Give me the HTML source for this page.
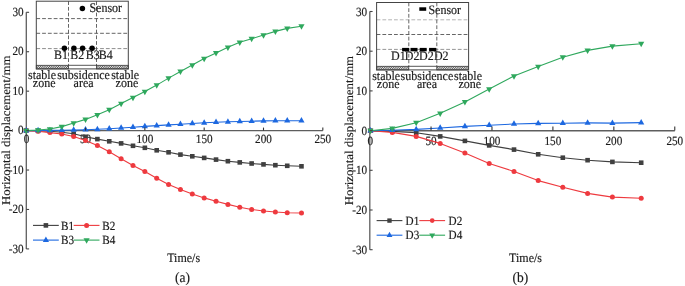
<!DOCTYPE html>
<html><head><meta charset="utf-8"><style>
html,body{margin:0;padding:0;background:#fff;}
svg{display:block;font-family:"Liberation Serif", serif;text-rendering:geometricPrecision;will-change:transform;}
</style></head><body>
<svg width="685" height="286" viewBox="0 0 685 286">
<defs><pattern id="hatch" patternUnits="userSpaceOnUse" width="1.5" height="1.5" patternTransform="rotate(45)"><rect width="1.5" height="1.5" fill="#fff"/><line x1="0" y1="0" x2="0" y2="1.5" stroke="#111" stroke-width="0.95"/></pattern></defs>
<rect width="685" height="286" fill="#fff"/>
<line x1="36.30" y1="18.60" x2="128.30" y2="18.60" stroke="#555" stroke-width="0.9" stroke-dasharray="3.8 2.0"/>
<line x1="36.30" y1="33.30" x2="128.30" y2="33.30" stroke="#555" stroke-width="0.9" stroke-dasharray="3.8 2.0"/>
<line x1="36.30" y1="48.60" x2="128.30" y2="48.60" stroke="#808080" stroke-width="0.9" stroke-dasharray="3.8 2.0"/>
<line x1="68.50" y1="1.20" x2="68.50" y2="65.30" stroke="#555" stroke-width="0.9" stroke-dasharray="3.8 1.9"/>
<line x1="96.50" y1="1.20" x2="96.50" y2="65.30" stroke="#555" stroke-width="0.9" stroke-dasharray="3.8 1.9"/>
<clipPath id="c5"><rect x="36.30" y="65.30" width="32.20" height="3.60"/></clipPath>
<path clip-path="url(#c5)" d="M32.70,68.90L36.30,65.30M34.50,68.90L38.10,65.30M36.30,68.90L39.90,65.30M38.10,68.90L41.70,65.30M39.90,68.90L43.50,65.30M41.70,68.90L45.30,65.30M43.50,68.90L47.10,65.30M45.30,68.90L48.90,65.30M47.10,68.90L50.70,65.30M48.90,68.90L52.50,65.30M50.70,68.90L54.30,65.30M52.50,68.90L56.10,65.30M54.30,68.90L57.90,65.30M56.10,68.90L59.70,65.30M57.90,68.90L61.50,65.30M59.70,68.90L63.30,65.30M61.50,68.90L65.10,65.30M63.30,68.90L66.90,65.30M65.10,68.90L68.70,65.30M66.90,68.90L70.50,65.30M68.70,68.90L72.30,65.30" stroke="#222" stroke-width="0.75" fill="none"/>
<rect x="36.30" y="65.30" width="32.20" height="3.60" fill="none" stroke="#333" stroke-width="0.8"/>
<clipPath id="c8"><rect x="96.50" y="65.30" width="31.80" height="3.60"/></clipPath>
<path clip-path="url(#c8)" d="M92.90,68.90L96.50,65.30M94.70,68.90L98.30,65.30M96.50,68.90L100.10,65.30M98.30,68.90L101.90,65.30M100.10,68.90L103.70,65.30M101.90,68.90L105.50,65.30M103.70,68.90L107.30,65.30M105.50,68.90L109.10,65.30M107.30,68.90L110.90,65.30M109.10,68.90L112.70,65.30M110.90,68.90L114.50,65.30M112.70,68.90L116.30,65.30M114.50,68.90L118.10,65.30M116.30,68.90L119.90,65.30M118.10,68.90L121.70,65.30M119.90,68.90L123.50,65.30M121.70,68.90L125.30,65.30M123.50,68.90L127.10,65.30M125.30,68.90L128.90,65.30M127.10,68.90L130.70,65.30M128.90,68.90L132.50,65.30" stroke="#222" stroke-width="0.75" fill="none"/>
<rect x="96.50" y="65.30" width="31.80" height="3.60" fill="none" stroke="#333" stroke-width="0.8"/>
<line x1="68.50" y1="65.30" x2="96.50" y2="65.30" stroke="#444" stroke-width="0.9" />
<rect x="36.30" y="1.20" width="92.00" height="67.70" fill="none" stroke="#444" stroke-width="1"/>
<line x1="376.60" y1="19.80" x2="468.60" y2="19.80" stroke="#ababab" stroke-width="0.9" stroke-dasharray="3.8 2.0"/>
<line x1="376.60" y1="34.50" x2="468.60" y2="34.50" stroke="#555" stroke-width="0.9" stroke-dasharray="3.8 2.0"/>
<line x1="376.60" y1="49.40" x2="468.60" y2="49.40" stroke="#8a8a8a" stroke-width="0.9" stroke-dasharray="3.8 2.0"/>
<line x1="408.80" y1="2.50" x2="408.80" y2="66.30" stroke="#555" stroke-width="0.9" stroke-dasharray="3.8 1.9"/>
<line x1="436.80" y1="2.50" x2="436.80" y2="66.30" stroke="#555" stroke-width="0.9" stroke-dasharray="3.8 1.9"/>
<clipPath id="c18"><rect x="376.60" y="66.30" width="32.20" height="3.60"/></clipPath>
<path clip-path="url(#c18)" d="M373.00,69.90L376.60,66.30M374.80,69.90L378.40,66.30M376.60,69.90L380.20,66.30M378.40,69.90L382.00,66.30M380.20,69.90L383.80,66.30M382.00,69.90L385.60,66.30M383.80,69.90L387.40,66.30M385.60,69.90L389.20,66.30M387.40,69.90L391.00,66.30M389.20,69.90L392.80,66.30M391.00,69.90L394.60,66.30M392.80,69.90L396.40,66.30M394.60,69.90L398.20,66.30M396.40,69.90L400.00,66.30M398.20,69.90L401.80,66.30M400.00,69.90L403.60,66.30M401.80,69.90L405.40,66.30M403.60,69.90L407.20,66.30M405.40,69.90L409.00,66.30M407.20,69.90L410.80,66.30M409.00,69.90L412.60,66.30" stroke="#222" stroke-width="0.75" fill="none"/>
<rect x="376.60" y="66.30" width="32.20" height="3.60" fill="none" stroke="#333" stroke-width="0.8"/>
<clipPath id="c21"><rect x="436.80" y="66.30" width="31.80" height="3.60"/></clipPath>
<path clip-path="url(#c21)" d="M433.20,69.90L436.80,66.30M435.00,69.90L438.60,66.30M436.80,69.90L440.40,66.30M438.60,69.90L442.20,66.30M440.40,69.90L444.00,66.30M442.20,69.90L445.80,66.30M444.00,69.90L447.60,66.30M445.80,69.90L449.40,66.30M447.60,69.90L451.20,66.30M449.40,69.90L453.00,66.30M451.20,69.90L454.80,66.30M453.00,69.90L456.60,66.30M454.80,69.90L458.40,66.30M456.60,69.90L460.20,66.30M458.40,69.90L462.00,66.30M460.20,69.90L463.80,66.30M462.00,69.90L465.60,66.30M463.80,69.90L467.40,66.30M465.60,69.90L469.20,66.30M467.40,69.90L471.00,66.30M469.20,69.90L472.80,66.30" stroke="#222" stroke-width="0.75" fill="none"/>
<rect x="436.80" y="66.30" width="31.80" height="3.60" fill="none" stroke="#333" stroke-width="0.8"/>
<line x1="408.80" y1="66.30" x2="436.80" y2="66.30" stroke="#444" stroke-width="0.9" />
<rect x="376.60" y="2.50" width="92.00" height="67.40" fill="none" stroke="#444" stroke-width="1"/>
<circle cx="82.4" cy="8.4" r="2.75" fill="#000"/>
<text transform="translate(89.40,11.90) scale(1,1.1)" text-anchor="start" font-size="12" fill="#1a1a1a" stroke="#1a1a1a" stroke-width="0.15" >Sensor</text>
<circle cx="64.4" cy="48.3" r="2.75" fill="#000"/>
<circle cx="73.9" cy="48.3" r="2.75" fill="#000"/>
<circle cx="82.6" cy="48.3" r="2.75" fill="#000"/>
<circle cx="92.1" cy="48.3" r="2.75" fill="#000"/>
<text transform="translate(54.00,59.20) scale(1,1.07)" text-anchor="start" font-size="12" fill="#1a1a1a" stroke="#1a1a1a" stroke-width="0.15" >B1</text>
<text transform="translate(70.30,59.20) scale(1,1.07)" text-anchor="start" font-size="12" fill="#1a1a1a" stroke="#1a1a1a" stroke-width="0.15" >B2</text>
<text transform="translate(85.70,59.20) scale(1,1.07)" text-anchor="start" font-size="12" fill="#1a1a1a" stroke="#1a1a1a" stroke-width="0.15" >B3</text>
<text transform="translate(98.70,59.20) scale(1,1.07)" text-anchor="start" font-size="12" fill="#1a1a1a" stroke="#1a1a1a" stroke-width="0.15" >B4</text>
<text transform="translate(28.00,78.90) scale(1,1.07)" text-anchor="start" font-size="12" fill="#1a1a1a" stroke="#1a1a1a" stroke-width="0.15" >stable</text>
<text transform="translate(32.80,87.20) scale(1,1.07)" text-anchor="start" font-size="12" fill="#1a1a1a" stroke="#1a1a1a" stroke-width="0.15" >zone</text>
<text transform="translate(57.20,78.90) scale(1,1.07)" text-anchor="start" font-size="12" fill="#1a1a1a" stroke="#1a1a1a" stroke-width="0.15" >subsidence</text>
<text transform="translate(73.60,87.20) scale(1,1.07)" text-anchor="start" font-size="12" fill="#1a1a1a" stroke="#1a1a1a" stroke-width="0.15" >area</text>
<text transform="translate(111.20,78.90) scale(1,1.07)" text-anchor="start" font-size="12" fill="#1a1a1a" stroke="#1a1a1a" stroke-width="0.15" >stable</text>
<text transform="translate(115.60,87.20) scale(1,1.07)" text-anchor="start" font-size="12" fill="#1a1a1a" stroke="#1a1a1a" stroke-width="0.15" >zone</text>
<rect x="419.3" y="7.3" width="6.9" height="3.5" fill="#000"/>
<text transform="translate(428.40,13.90) scale(1,1.07)" text-anchor="start" font-size="12" fill="#1a1a1a" stroke="#1a1a1a" stroke-width="0.15" >Sensor</text>
<rect x="402.09999999999997" y="47.9" width="7.0" height="3.4" fill="#000"/>
<rect x="410.5" y="47.9" width="7.0" height="3.4" fill="#000"/>
<rect x="419.7" y="47.9" width="7.0" height="3.4" fill="#000"/>
<rect x="429.09999999999997" y="47.9" width="7.0" height="3.4" fill="#000"/>
<text transform="translate(391.00,60.40) scale(1,1.07)" text-anchor="start" font-size="12" fill="#1a1a1a" stroke="#1a1a1a" stroke-width="0.15" >D1</text>
<text transform="translate(404.80,60.40) scale(1,1.07)" text-anchor="start" font-size="12" fill="#1a1a1a" stroke="#1a1a1a" stroke-width="0.15" >D2</text>
<text transform="translate(419.10,60.40) scale(1,1.07)" text-anchor="start" font-size="12" fill="#1a1a1a" stroke="#1a1a1a" stroke-width="0.15" >D2</text>
<text transform="translate(433.90,60.40) scale(1,1.07)" text-anchor="start" font-size="12" fill="#1a1a1a" stroke="#1a1a1a" stroke-width="0.15" >D2</text>
<text transform="translate(372.20,79.50) scale(1,1.07)" text-anchor="start" font-size="12" fill="#1a1a1a" stroke="#1a1a1a" stroke-width="0.15" >stable</text>
<text transform="translate(376.80,87.50) scale(1,1.07)" text-anchor="start" font-size="12" fill="#1a1a1a" stroke="#1a1a1a" stroke-width="0.15" >zone</text>
<text transform="translate(400.60,79.50) scale(1,1.07)" text-anchor="start" font-size="12" fill="#1a1a1a" stroke="#1a1a1a" stroke-width="0.15" >subsidence</text>
<text transform="translate(417.00,87.50) scale(1,1.07)" text-anchor="start" font-size="12" fill="#1a1a1a" stroke="#1a1a1a" stroke-width="0.15" >area</text>
<text transform="translate(454.00,79.50) scale(1,1.07)" text-anchor="start" font-size="12" fill="#1a1a1a" stroke="#1a1a1a" stroke-width="0.15" >stable</text>
<text transform="translate(458.40,87.50) scale(1,1.07)" text-anchor="start" font-size="12" fill="#1a1a1a" stroke="#1a1a1a" stroke-width="0.15" >zone</text>
<line x1="26.30" y1="12.30" x2="26.30" y2="248.90" stroke="#5e5e5e" stroke-width="1.3" />
<line x1="26.30" y1="130.60" x2="322.80" y2="130.60" stroke="#5e5e5e" stroke-width="1.25" />
<text transform="translate(23.60,15.90) scale(1,1.12)" text-anchor="end" font-size="11.2" fill="#1a1a1a" stroke="#1a1a1a" stroke-width="0.15" >30</text>
<text transform="translate(23.60,55.33) scale(1,1.12)" text-anchor="end" font-size="11.2" fill="#1a1a1a" stroke="#1a1a1a" stroke-width="0.15" >20</text>
<text transform="translate(23.60,94.77) scale(1,1.12)" text-anchor="end" font-size="11.2" fill="#1a1a1a" stroke="#1a1a1a" stroke-width="0.15" >10</text>
<text transform="translate(23.60,134.20) scale(1,1.12)" text-anchor="end" font-size="11.2" fill="#1a1a1a" stroke="#1a1a1a" stroke-width="0.15" >0</text>
<text transform="translate(23.60,173.63) scale(1,1.12)" text-anchor="end" font-size="11.2" fill="#1a1a1a" stroke="#1a1a1a" stroke-width="0.15" >-10</text>
<text transform="translate(23.60,213.07) scale(1,1.12)" text-anchor="end" font-size="11.2" fill="#1a1a1a" stroke="#1a1a1a" stroke-width="0.15" >-20</text>
<text transform="translate(23.60,252.50) scale(1,1.12)" text-anchor="end" font-size="11.2" fill="#1a1a1a" stroke="#1a1a1a" stroke-width="0.15" >-30</text>
<text transform="translate(85.53,143.10) scale(1,1.12)" text-anchor="middle" font-size="11.2" fill="#1a1a1a" stroke="#1a1a1a" stroke-width="0.15" >50</text>
<text transform="translate(144.85,143.10) scale(1,1.12)" text-anchor="middle" font-size="11.2" fill="#1a1a1a" stroke="#1a1a1a" stroke-width="0.15" >100</text>
<text transform="translate(204.18,143.10) scale(1,1.12)" text-anchor="middle" font-size="11.2" fill="#1a1a1a" stroke="#1a1a1a" stroke-width="0.15" >150</text>
<text transform="translate(263.50,143.10) scale(1,1.12)" text-anchor="middle" font-size="11.2" fill="#1a1a1a" stroke="#1a1a1a" stroke-width="0.15" >200</text>
<text transform="translate(322.82,143.10) scale(1,1.12)" text-anchor="middle" font-size="11.2" fill="#1a1a1a" stroke="#1a1a1a" stroke-width="0.15" >250</text>
<text transform="translate(26.50,143.10) scale(1,1.12)" text-anchor="middle" font-size="11.2" fill="#1a1a1a" stroke="#1a1a1a" stroke-width="0.15" >0</text>
<line x1="369.80" y1="11.50" x2="369.80" y2="249.70" stroke="#5e5e5e" stroke-width="1.3" />
<line x1="369.80" y1="130.80" x2="674.80" y2="130.80" stroke="#5e5e5e" stroke-width="1.45" />
<text transform="translate(367.20,15.50) scale(1,1.12)" text-anchor="end" font-size="11.2" fill="#1a1a1a" stroke="#1a1a1a" stroke-width="0.15" >30</text>
<text transform="translate(367.20,55.20) scale(1,1.12)" text-anchor="end" font-size="11.2" fill="#1a1a1a" stroke="#1a1a1a" stroke-width="0.15" >20</text>
<text transform="translate(367.20,94.90) scale(1,1.12)" text-anchor="end" font-size="11.2" fill="#1a1a1a" stroke="#1a1a1a" stroke-width="0.15" >10</text>
<text transform="translate(367.20,134.60) scale(1,1.12)" text-anchor="end" font-size="11.2" fill="#1a1a1a" stroke="#1a1a1a" stroke-width="0.15" >0</text>
<text transform="translate(367.20,174.30) scale(1,1.12)" text-anchor="end" font-size="11.2" fill="#1a1a1a" stroke="#1a1a1a" stroke-width="0.15" >-10</text>
<text transform="translate(367.20,214.00) scale(1,1.12)" text-anchor="end" font-size="11.2" fill="#1a1a1a" stroke="#1a1a1a" stroke-width="0.15" >-20</text>
<text transform="translate(367.20,253.70) scale(1,1.12)" text-anchor="end" font-size="11.2" fill="#1a1a1a" stroke="#1a1a1a" stroke-width="0.15" >-30</text>
<text transform="translate(431.04,144.70) scale(1,1.12)" text-anchor="middle" font-size="11.2" fill="#1a1a1a" stroke="#1a1a1a" stroke-width="0.15" >50</text>
<text transform="translate(491.97,144.70) scale(1,1.12)" text-anchor="middle" font-size="11.2" fill="#1a1a1a" stroke="#1a1a1a" stroke-width="0.15" >100</text>
<text transform="translate(552.90,144.70) scale(1,1.12)" text-anchor="middle" font-size="11.2" fill="#1a1a1a" stroke="#1a1a1a" stroke-width="0.15" >150</text>
<text transform="translate(613.84,144.70) scale(1,1.12)" text-anchor="middle" font-size="11.2" fill="#1a1a1a" stroke="#1a1a1a" stroke-width="0.15" >200</text>
<text transform="translate(674.77,144.70) scale(1,1.12)" text-anchor="middle" font-size="11.2" fill="#1a1a1a" stroke="#1a1a1a" stroke-width="0.15" >250</text>
<text transform="translate(370.40,144.70) scale(1,1.12)" text-anchor="middle" font-size="11.2" fill="#1a1a1a" stroke="#1a1a1a" stroke-width="0.15" >0</text>
<polyline points="26.20,130.60 38.06,130.80 49.93,131.20 61.80,132.20 73.66,133.80 85.53,136.80 97.39,139.10 109.26,141.30 121.12,143.40 132.99,145.80 144.85,147.80 156.72,150.30 168.58,152.30 180.44,154.60 192.31,156.30 204.18,157.90 216.04,159.60 227.91,161.20 239.77,162.40 251.64,163.50 263.50,164.40 275.37,165.20 287.23,165.80 301.47,166.30" fill="none" stroke="#404040" stroke-width="1.1" stroke-linejoin="round"/>
<rect x="23.90" y="128.30" width="4.60" height="4.60" fill="#404040"/>
<rect x="35.77" y="128.50" width="4.60" height="4.60" fill="#404040"/>
<rect x="47.63" y="128.90" width="4.60" height="4.60" fill="#404040"/>
<rect x="59.50" y="129.90" width="4.60" height="4.60" fill="#404040"/>
<rect x="71.36" y="131.50" width="4.60" height="4.60" fill="#404040"/>
<rect x="83.23" y="134.50" width="4.60" height="4.60" fill="#404040"/>
<rect x="95.09" y="136.80" width="4.60" height="4.60" fill="#404040"/>
<rect x="106.96" y="139.00" width="4.60" height="4.60" fill="#404040"/>
<rect x="118.82" y="141.10" width="4.60" height="4.60" fill="#404040"/>
<rect x="130.69" y="143.50" width="4.60" height="4.60" fill="#404040"/>
<rect x="142.55" y="145.50" width="4.60" height="4.60" fill="#404040"/>
<rect x="154.41" y="148.00" width="4.60" height="4.60" fill="#404040"/>
<rect x="166.28" y="150.00" width="4.60" height="4.60" fill="#404040"/>
<rect x="178.14" y="152.30" width="4.60" height="4.60" fill="#404040"/>
<rect x="190.01" y="154.00" width="4.60" height="4.60" fill="#404040"/>
<rect x="201.88" y="155.60" width="4.60" height="4.60" fill="#404040"/>
<rect x="213.74" y="157.30" width="4.60" height="4.60" fill="#404040"/>
<rect x="225.60" y="158.90" width="4.60" height="4.60" fill="#404040"/>
<rect x="237.47" y="160.10" width="4.60" height="4.60" fill="#404040"/>
<rect x="249.34" y="161.20" width="4.60" height="4.60" fill="#404040"/>
<rect x="261.20" y="162.10" width="4.60" height="4.60" fill="#404040"/>
<rect x="273.06" y="162.90" width="4.60" height="4.60" fill="#404040"/>
<rect x="284.93" y="163.50" width="4.60" height="4.60" fill="#404040"/>
<rect x="299.17" y="164.00" width="4.60" height="4.60" fill="#404040"/>
<polyline points="26.20,130.60 38.06,131.20 49.93,132.60 61.80,134.00 73.66,136.50 85.53,140.60 97.39,145.60 109.26,151.80 121.12,158.80 132.99,165.40 144.85,171.50 156.72,178.20 168.58,184.50 180.44,189.50 192.31,194.00 204.18,197.90 216.04,201.30 227.91,204.40 239.77,207.30 251.64,209.50 263.50,211.00 275.37,212.00 287.23,212.70 301.47,213.00" fill="none" stroke="#ee3a3f" stroke-width="1.1" stroke-linejoin="round"/>
<circle cx="26.20" cy="130.60" r="2.50" fill="#ee3a3f"/>
<circle cx="38.06" cy="131.20" r="2.50" fill="#ee3a3f"/>
<circle cx="49.93" cy="132.60" r="2.50" fill="#ee3a3f"/>
<circle cx="61.80" cy="134.00" r="2.50" fill="#ee3a3f"/>
<circle cx="73.66" cy="136.50" r="2.50" fill="#ee3a3f"/>
<circle cx="85.53" cy="140.60" r="2.50" fill="#ee3a3f"/>
<circle cx="97.39" cy="145.60" r="2.50" fill="#ee3a3f"/>
<circle cx="109.26" cy="151.80" r="2.50" fill="#ee3a3f"/>
<circle cx="121.12" cy="158.80" r="2.50" fill="#ee3a3f"/>
<circle cx="132.99" cy="165.40" r="2.50" fill="#ee3a3f"/>
<circle cx="144.85" cy="171.50" r="2.50" fill="#ee3a3f"/>
<circle cx="156.72" cy="178.20" r="2.50" fill="#ee3a3f"/>
<circle cx="168.58" cy="184.50" r="2.50" fill="#ee3a3f"/>
<circle cx="180.44" cy="189.50" r="2.50" fill="#ee3a3f"/>
<circle cx="192.31" cy="194.00" r="2.50" fill="#ee3a3f"/>
<circle cx="204.18" cy="197.90" r="2.50" fill="#ee3a3f"/>
<circle cx="216.04" cy="201.30" r="2.50" fill="#ee3a3f"/>
<circle cx="227.91" cy="204.40" r="2.50" fill="#ee3a3f"/>
<circle cx="239.77" cy="207.30" r="2.50" fill="#ee3a3f"/>
<circle cx="251.64" cy="209.50" r="2.50" fill="#ee3a3f"/>
<circle cx="263.50" cy="211.00" r="2.50" fill="#ee3a3f"/>
<circle cx="275.37" cy="212.00" r="2.50" fill="#ee3a3f"/>
<circle cx="287.23" cy="212.70" r="2.50" fill="#ee3a3f"/>
<circle cx="301.47" cy="213.00" r="2.50" fill="#ee3a3f"/>
<polyline points="26.20,130.60 38.06,130.50 49.93,130.40 61.80,130.20 73.66,130.00 85.53,129.70 97.39,129.30 109.26,128.70 121.12,128.00 132.99,127.20 144.85,126.40 156.72,125.60 168.58,124.90 180.44,124.20 192.31,123.50 204.18,122.80 216.04,122.20 227.91,121.80 239.77,121.50 251.64,121.20 263.50,120.90 275.37,120.70 287.23,120.70 301.47,120.70" fill="none" stroke="#1d68e0" stroke-width="1.1" stroke-linejoin="round"/>
<polygon points="26.20,126.93 23.10,132.43 29.30,132.43" fill="#1d68e0"/>
<polygon points="38.06,126.83 34.96,132.33 41.16,132.33" fill="#1d68e0"/>
<polygon points="49.93,126.73 46.83,132.23 53.03,132.23" fill="#1d68e0"/>
<polygon points="61.80,126.53 58.70,132.03 64.89,132.03" fill="#1d68e0"/>
<polygon points="73.66,126.33 70.56,131.83 76.76,131.83" fill="#1d68e0"/>
<polygon points="85.53,126.03 82.43,131.53 88.62,131.53" fill="#1d68e0"/>
<polygon points="97.39,125.63 94.29,131.13 100.49,131.13" fill="#1d68e0"/>
<polygon points="109.26,125.03 106.16,130.53 112.36,130.53" fill="#1d68e0"/>
<polygon points="121.12,124.33 118.02,129.83 124.22,129.83" fill="#1d68e0"/>
<polygon points="132.99,123.53 129.89,129.03 136.09,129.03" fill="#1d68e0"/>
<polygon points="144.85,122.73 141.75,128.23 147.95,128.23" fill="#1d68e0"/>
<polygon points="156.72,121.93 153.62,127.43 159.81,127.43" fill="#1d68e0"/>
<polygon points="168.58,121.23 165.48,126.73 171.68,126.73" fill="#1d68e0"/>
<polygon points="180.44,120.53 177.34,126.03 183.54,126.03" fill="#1d68e0"/>
<polygon points="192.31,119.83 189.21,125.33 195.41,125.33" fill="#1d68e0"/>
<polygon points="204.18,119.13 201.08,124.63 207.28,124.63" fill="#1d68e0"/>
<polygon points="216.04,118.53 212.94,124.03 219.14,124.03" fill="#1d68e0"/>
<polygon points="227.91,118.13 224.81,123.63 231.00,123.63" fill="#1d68e0"/>
<polygon points="239.77,117.83 236.67,123.33 242.87,123.33" fill="#1d68e0"/>
<polygon points="251.64,117.53 248.54,123.03 254.74,123.03" fill="#1d68e0"/>
<polygon points="263.50,117.23 260.40,122.73 266.60,122.73" fill="#1d68e0"/>
<polygon points="275.37,117.03 272.26,122.53 278.47,122.53" fill="#1d68e0"/>
<polygon points="287.23,117.03 284.13,122.53 290.33,122.53" fill="#1d68e0"/>
<polygon points="301.47,117.03 298.37,122.53 304.57,122.53" fill="#1d68e0"/>
<polyline points="26.20,130.60 38.06,130.00 49.93,129.00 61.80,126.60 73.66,123.00 85.53,119.40 97.39,114.80 109.26,109.70 121.12,103.60 132.99,97.60 144.85,91.60 156.72,85.10 168.58,78.10 180.44,71.40 192.31,65.00 204.18,58.50 216.04,52.90 227.91,47.30 239.77,42.30 251.64,38.70 263.50,35.00 275.37,31.40 287.23,28.40 301.47,26.20" fill="none" stroke="#2fa85d" stroke-width="1.1" stroke-linejoin="round"/>
<polygon points="26.20,134.27 23.10,128.77 29.30,128.77" fill="#2fa85d"/>
<polygon points="38.06,133.67 34.96,128.17 41.16,128.17" fill="#2fa85d"/>
<polygon points="49.93,132.67 46.83,127.17 53.03,127.17" fill="#2fa85d"/>
<polygon points="61.80,130.27 58.70,124.77 64.89,124.77" fill="#2fa85d"/>
<polygon points="73.66,126.67 70.56,121.17 76.76,121.17" fill="#2fa85d"/>
<polygon points="85.53,123.07 82.43,117.57 88.62,117.57" fill="#2fa85d"/>
<polygon points="97.39,118.47 94.29,112.97 100.49,112.97" fill="#2fa85d"/>
<polygon points="109.26,113.37 106.16,107.87 112.36,107.87" fill="#2fa85d"/>
<polygon points="121.12,107.27 118.02,101.77 124.22,101.77" fill="#2fa85d"/>
<polygon points="132.99,101.27 129.89,95.77 136.09,95.77" fill="#2fa85d"/>
<polygon points="144.85,95.27 141.75,89.77 147.95,89.77" fill="#2fa85d"/>
<polygon points="156.72,88.77 153.62,83.27 159.81,83.27" fill="#2fa85d"/>
<polygon points="168.58,81.77 165.48,76.27 171.68,76.27" fill="#2fa85d"/>
<polygon points="180.44,75.07 177.34,69.57 183.54,69.57" fill="#2fa85d"/>
<polygon points="192.31,68.67 189.21,63.17 195.41,63.17" fill="#2fa85d"/>
<polygon points="204.18,62.17 201.08,56.67 207.28,56.67" fill="#2fa85d"/>
<polygon points="216.04,56.57 212.94,51.07 219.14,51.07" fill="#2fa85d"/>
<polygon points="227.91,50.97 224.81,45.47 231.00,45.47" fill="#2fa85d"/>
<polygon points="239.77,45.97 236.67,40.47 242.87,40.47" fill="#2fa85d"/>
<polygon points="251.64,42.37 248.54,36.87 254.74,36.87" fill="#2fa85d"/>
<polygon points="263.50,38.67 260.40,33.17 266.60,33.17" fill="#2fa85d"/>
<polygon points="275.37,35.07 272.26,29.57 278.47,29.57" fill="#2fa85d"/>
<polygon points="287.23,32.07 284.13,26.57 290.33,26.57" fill="#2fa85d"/>
<polygon points="301.47,29.87 298.37,24.37 304.57,24.37" fill="#2fa85d"/>
<polyline points="370.50,130.70 392.30,131.40 416.20,132.80 440.20,136.40 464.90,140.90 489.20,145.40 514.00,149.60 538.20,154.30 562.80,157.70 587.60,160.20 612.40,161.90 641.20,162.70" fill="none" stroke="#404040" stroke-width="1.1" stroke-linejoin="round"/>
<rect x="368.20" y="128.40" width="4.60" height="4.60" fill="#404040"/>
<rect x="390.00" y="129.10" width="4.60" height="4.60" fill="#404040"/>
<rect x="413.90" y="130.50" width="4.60" height="4.60" fill="#404040"/>
<rect x="437.90" y="134.10" width="4.60" height="4.60" fill="#404040"/>
<rect x="462.60" y="138.60" width="4.60" height="4.60" fill="#404040"/>
<rect x="486.90" y="143.10" width="4.60" height="4.60" fill="#404040"/>
<rect x="511.70" y="147.30" width="4.60" height="4.60" fill="#404040"/>
<rect x="535.90" y="152.00" width="4.60" height="4.60" fill="#404040"/>
<rect x="560.50" y="155.40" width="4.60" height="4.60" fill="#404040"/>
<rect x="585.30" y="157.90" width="4.60" height="4.60" fill="#404040"/>
<rect x="610.10" y="159.60" width="4.60" height="4.60" fill="#404040"/>
<rect x="638.90" y="160.40" width="4.60" height="4.60" fill="#404040"/>
<polyline points="370.50,130.70 392.30,132.40 416.20,136.40 440.20,143.40 464.90,153.00 489.20,163.40 514.00,171.50 538.20,180.60 562.80,187.30 587.60,193.40 612.40,197.10 641.20,198.20" fill="none" stroke="#ee3a3f" stroke-width="1.1" stroke-linejoin="round"/>
<circle cx="370.50" cy="130.70" r="2.50" fill="#ee3a3f"/>
<circle cx="392.30" cy="132.40" r="2.50" fill="#ee3a3f"/>
<circle cx="416.20" cy="136.40" r="2.50" fill="#ee3a3f"/>
<circle cx="440.20" cy="143.40" r="2.50" fill="#ee3a3f"/>
<circle cx="464.90" cy="153.00" r="2.50" fill="#ee3a3f"/>
<circle cx="489.20" cy="163.40" r="2.50" fill="#ee3a3f"/>
<circle cx="514.00" cy="171.50" r="2.50" fill="#ee3a3f"/>
<circle cx="538.20" cy="180.60" r="2.50" fill="#ee3a3f"/>
<circle cx="562.80" cy="187.30" r="2.50" fill="#ee3a3f"/>
<circle cx="587.60" cy="193.40" r="2.50" fill="#ee3a3f"/>
<circle cx="612.40" cy="197.10" r="2.50" fill="#ee3a3f"/>
<circle cx="641.20" cy="198.20" r="2.50" fill="#ee3a3f"/>
<polyline points="370.50,130.70 392.30,130.20 416.20,129.40 440.20,128.00 464.90,126.40 489.20,125.20 514.00,124.00 538.20,123.40 562.80,123.20 587.60,122.90 612.40,123.10 641.20,122.60" fill="none" stroke="#1d68e0" stroke-width="1.1" stroke-linejoin="round"/>
<polygon points="370.50,127.03 367.40,132.53 373.60,132.53" fill="#1d68e0"/>
<polygon points="392.30,126.53 389.20,132.03 395.40,132.03" fill="#1d68e0"/>
<polygon points="416.20,125.73 413.10,131.23 419.30,131.23" fill="#1d68e0"/>
<polygon points="440.20,124.33 437.10,129.83 443.30,129.83" fill="#1d68e0"/>
<polygon points="464.90,122.73 461.80,128.23 468.00,128.23" fill="#1d68e0"/>
<polygon points="489.20,121.53 486.10,127.03 492.30,127.03" fill="#1d68e0"/>
<polygon points="514.00,120.33 510.90,125.83 517.10,125.83" fill="#1d68e0"/>
<polygon points="538.20,119.73 535.10,125.23 541.30,125.23" fill="#1d68e0"/>
<polygon points="562.80,119.53 559.70,125.03 565.90,125.03" fill="#1d68e0"/>
<polygon points="587.60,119.23 584.50,124.73 590.70,124.73" fill="#1d68e0"/>
<polygon points="612.40,119.43 609.30,124.93 615.50,124.93" fill="#1d68e0"/>
<polygon points="641.20,118.93 638.10,124.43 644.30,124.43" fill="#1d68e0"/>
<polyline points="370.50,130.70 392.30,128.40 416.20,122.70 440.20,113.30 464.90,101.90 489.20,89.00 514.00,76.10 538.20,66.50 562.80,57.20 587.60,50.40 612.40,46.10 641.20,43.70" fill="none" stroke="#2fa85d" stroke-width="1.1" stroke-linejoin="round"/>
<polygon points="370.50,134.37 367.40,128.87 373.60,128.87" fill="#2fa85d"/>
<polygon points="392.30,132.07 389.20,126.57 395.40,126.57" fill="#2fa85d"/>
<polygon points="416.20,126.37 413.10,120.87 419.30,120.87" fill="#2fa85d"/>
<polygon points="440.20,116.97 437.10,111.47 443.30,111.47" fill="#2fa85d"/>
<polygon points="464.90,105.57 461.80,100.07 468.00,100.07" fill="#2fa85d"/>
<polygon points="489.20,92.67 486.10,87.17 492.30,87.17" fill="#2fa85d"/>
<polygon points="514.00,79.77 510.90,74.27 517.10,74.27" fill="#2fa85d"/>
<polygon points="538.20,70.17 535.10,64.67 541.30,64.67" fill="#2fa85d"/>
<polygon points="562.80,60.87 559.70,55.37 565.90,55.37" fill="#2fa85d"/>
<polygon points="587.60,54.07 584.50,48.57 590.70,48.57" fill="#2fa85d"/>
<polygon points="612.40,49.77 609.30,44.27 615.50,44.27" fill="#2fa85d"/>
<polygon points="641.20,47.37 638.10,41.87 644.30,41.87" fill="#2fa85d"/>
<line x1="26.30" y1="12.30" x2="29.10" y2="12.30" stroke="#444" stroke-width="1.1" />
<line x1="26.30" y1="51.73" x2="29.10" y2="51.73" stroke="#444" stroke-width="1.1" />
<line x1="26.30" y1="91.17" x2="29.10" y2="91.17" stroke="#444" stroke-width="1.1" />
<line x1="26.30" y1="130.60" x2="29.10" y2="130.60" stroke="#444" stroke-width="1.1" />
<line x1="26.30" y1="170.03" x2="29.10" y2="170.03" stroke="#444" stroke-width="1.1" />
<line x1="26.30" y1="209.47" x2="29.10" y2="209.47" stroke="#444" stroke-width="1.1" />
<line x1="26.30" y1="248.90" x2="29.10" y2="248.90" stroke="#444" stroke-width="1.1" />
<line x1="85.53" y1="130.60" x2="85.53" y2="127.60" stroke="#333" stroke-width="1.1" />
<line x1="144.85" y1="130.60" x2="144.85" y2="127.60" stroke="#333" stroke-width="1.1" />
<line x1="204.18" y1="130.60" x2="204.18" y2="127.60" stroke="#333" stroke-width="1.1" />
<line x1="263.50" y1="130.60" x2="263.50" y2="127.60" stroke="#333" stroke-width="1.1" />
<line x1="322.82" y1="130.60" x2="322.82" y2="127.60" stroke="#333" stroke-width="1.1" />
<line x1="369.80" y1="11.50" x2="372.60" y2="11.50" stroke="#444" stroke-width="1.1" />
<line x1="369.80" y1="51.20" x2="372.60" y2="51.20" stroke="#444" stroke-width="1.1" />
<line x1="369.80" y1="90.90" x2="372.60" y2="90.90" stroke="#444" stroke-width="1.1" />
<line x1="369.80" y1="130.60" x2="372.60" y2="130.60" stroke="#444" stroke-width="1.1" />
<line x1="369.80" y1="170.30" x2="372.60" y2="170.30" stroke="#444" stroke-width="1.1" />
<line x1="369.80" y1="210.00" x2="372.60" y2="210.00" stroke="#444" stroke-width="1.1" />
<line x1="369.80" y1="249.70" x2="372.60" y2="249.70" stroke="#444" stroke-width="1.1" />
<line x1="431.04" y1="130.60" x2="431.04" y2="126.60" stroke="#333" stroke-width="1.1" />
<line x1="491.97" y1="130.60" x2="491.97" y2="126.60" stroke="#333" stroke-width="1.1" />
<line x1="552.90" y1="130.60" x2="552.90" y2="126.60" stroke="#333" stroke-width="1.1" />
<line x1="613.84" y1="130.60" x2="613.84" y2="126.60" stroke="#333" stroke-width="1.1" />
<line x1="674.77" y1="130.60" x2="674.77" y2="126.60" stroke="#333" stroke-width="1.1" />
<line x1="33.00" y1="225.40" x2="58.80" y2="225.40" stroke="#404040" stroke-width="1.1" />
<rect x="43.60" y="223.10" width="4.60" height="4.60" fill="#404040"/>
<text transform="translate(61.00,229.60) scale(1,1.12)" text-anchor="start" font-size="11.2" fill="#1a1a1a" stroke="#1a1a1a" stroke-width="0.15" >B1</text>
<line x1="73.70" y1="225.40" x2="99.50" y2="225.40" stroke="#ee3a3f" stroke-width="1.1" />
<circle cx="86.60" cy="225.40" r="2.50" fill="#ee3a3f"/>
<text transform="translate(102.20,229.60) scale(1,1.12)" text-anchor="start" font-size="11.2" fill="#1a1a1a" stroke="#1a1a1a" stroke-width="0.15" >B2</text>
<line x1="33.00" y1="240.10" x2="58.80" y2="240.10" stroke="#1d68e0" stroke-width="1.1" />
<polygon points="45.90,236.43 42.80,241.93 49.00,241.93" fill="#1d68e0"/>
<text transform="translate(61.00,244.30) scale(1,1.12)" text-anchor="start" font-size="11.2" fill="#1a1a1a" stroke="#1a1a1a" stroke-width="0.15" >B3</text>
<line x1="73.70" y1="240.10" x2="99.50" y2="240.10" stroke="#2fa85d" stroke-width="1.1" />
<polygon points="86.60,243.77 83.50,238.27 89.70,238.27" fill="#2fa85d"/>
<text transform="translate(102.20,244.30) scale(1,1.12)" text-anchor="start" font-size="11.2" fill="#1a1a1a" stroke="#1a1a1a" stroke-width="0.15" >B4</text>
<line x1="376.60" y1="220.60" x2="402.40" y2="220.60" stroke="#404040" stroke-width="1.1" />
<rect x="387.31" y="218.41" width="4.37" height="4.37" fill="#404040"/>
<text transform="translate(405.60,224.80) scale(1,1.12)" text-anchor="start" font-size="11.2" fill="#1a1a1a" stroke="#1a1a1a" stroke-width="0.15" >D1</text>
<line x1="419.30" y1="220.60" x2="445.10" y2="220.60" stroke="#ee3a3f" stroke-width="1.1" />
<circle cx="432.20" cy="220.60" r="2.38" fill="#ee3a3f"/>
<text transform="translate(448.60,224.80) scale(1,1.12)" text-anchor="start" font-size="11.2" fill="#1a1a1a" stroke="#1a1a1a" stroke-width="0.15" >D2</text>
<line x1="376.60" y1="235.20" x2="402.40" y2="235.20" stroke="#1d68e0" stroke-width="1.1" />
<polygon points="389.50,231.72 386.56,236.94 392.44,236.94" fill="#1d68e0"/>
<text transform="translate(405.60,239.40) scale(1,1.12)" text-anchor="start" font-size="11.2" fill="#1a1a1a" stroke="#1a1a1a" stroke-width="0.15" >D3</text>
<line x1="419.30" y1="235.20" x2="445.10" y2="235.20" stroke="#2fa85d" stroke-width="1.1" />
<polygon points="432.20,238.68 429.25,233.46 435.14,233.46" fill="#2fa85d"/>
<text transform="translate(448.60,239.40) scale(1,1.12)" text-anchor="start" font-size="11.2" fill="#1a1a1a" stroke="#1a1a1a" stroke-width="0.15" >D4</text>
<text transform="translate(167.20,261.70) scale(1,1.07)" text-anchor="start" font-size="12" fill="#1a1a1a" stroke="#1a1a1a" stroke-width="0.15" >Time/s</text>
<text transform="translate(509.10,261.70) scale(1,1.07)" text-anchor="start" font-size="12" fill="#1a1a1a" stroke="#1a1a1a" stroke-width="0.15" >Time/s</text>
<text transform="translate(182.50,282.00) scale(1,1.05)" text-anchor="middle" font-size="13.5" fill="#1a1a1a" stroke="#1a1a1a" stroke-width="0.15" >(a)</text>
<text transform="translate(520.40,282.00) scale(1,1.05)" text-anchor="middle" font-size="13.5" fill="#1a1a1a" stroke="#1a1a1a" stroke-width="0.15" >(b)</text>
<text transform="translate(10.3,205.0) rotate(-90) scale(1.07,1)" font-size="12" fill="#1a1a1a" stroke="#1a1a1a" stroke-width="0.15">Horizontal displacement/mm</text>
<text transform="translate(353.4,205.3) rotate(-90) scale(1.07,1)" font-size="12" fill="#1a1a1a" stroke="#1a1a1a" stroke-width="0.15">Horizontal displacement/mm</text>
</svg></body></html>
